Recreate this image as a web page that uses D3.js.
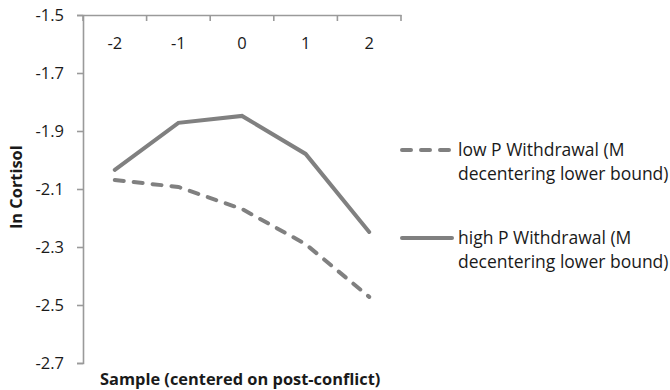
<!DOCTYPE html>
<html>
<head>
<meta charset="utf-8">
<script src="https://cdn.jsdelivr.net/npm/d3@7"></script>
<style>
  body { margin: 0; background: #fff; }
  text { font-family: "Open Sans", "Noto Sans", sans-serif; }
</style>
</head>
<body>
<svg id="chart" width="670" height="390"></svg>
<script>
// samples centered on post-conflict
var samples = [-2, -1, 0, 1, 2];

// ln cortisol values
var lowWithdrawal = [-2.069, -2.093, -2.169, -2.290, -2.472];
var highWithdrawal = [-2.034, -1.872, -1.848, -1.979, -2.248];

var yTicks = [-1.5, -1.7, -1.9, -2.1, -2.3, -2.5, -2.7];

var seriesNames = ["low P Withdrawal (M|decentering lower bound)",
                   "high P Withdrawal (M|decentering lower bound)"];

var svg = d3.select("#chart");
var lineColor = "#808080";
var axisColor = "#9a9a9a";
var textColor = "#1a1a1a";

// scales
var x = d3.scaleBand().domain(samples).range([83, 401]);
var y = d3.scaleLinear().domain([-1.5, -2.7]).range([15, 363]);

// y axis on the left, plain hyphen for the minus
var yAxis = d3.axisLeft(y).tickValues(yTicks).tickSize(6).tickPadding(13)
   .tickFormat(function(d) { return d.toFixed(1); });
var gy = svg.append("g").attr("transform", "translate(83,0)").call(yAxis);
gy.select(".domain").attr("stroke", axisColor).attr("stroke-width", 1.6);
gy.selectAll(".tick line").attr("stroke", axisColor).attr("stroke-width", 1.6);
gy.selectAll(".tick text").attr("font-size", 16.5).attr("fill", textColor)
   .style("font-family", "'Open Sans', sans-serif");

// x axis sits on top, labels under the line
var xAxis = d3.axisTop(x).tickSize(0).tickPadding(0)
   .tickFormat(function(d) { return String(d); });
var gx = svg.append("g").attr("transform", "translate(0,15)").call(xAxis);
gx.select(".domain").attr("stroke", axisColor).attr("stroke-width", 1.6);
gx.selectAll(".tick text").attr("font-size", 16.5).attr("fill", textColor)
   .attr("dy", 0).attr("y", 34)
   .style("font-family", "'Open Sans', sans-serif");

// tick marks on the band boundaries, pointing down
var bounds = samples.map(function(s) { return x(s); }).concat([x.range()[1]]);
svg.append("g").selectAll("line")
   .data(bounds)
   .enter()
   .append("line")
   .attr("x1", function(d) { return d; })
   .attr("x2", function(d) { return d; })
   .attr("y1", 15)
   .attr("y2", 21)
   .attr("stroke", axisColor)
   .attr("stroke-width", 1.6);

// lines
var line = d3.line()
   .x(function(d, i) { return x(samples[i]) + x.bandwidth() / 2; })
   .y(function(d) { return y(d); });

svg.append("path")
   .datum(lowWithdrawal)
   .attr("d", line)
   .attr("fill", "none")
   .attr("stroke", lineColor)
   .attr("stroke-width", 4)
   .attr("stroke-linecap", "round")
   .attr("stroke-dasharray", "9,10");

svg.append("path")
   .datum(highWithdrawal)
   .attr("d", line)
   .attr("fill", "none")
   .attr("stroke", lineColor)
   .attr("stroke-width", 4)
   .attr("stroke-linecap", "round");

// legend
var legendY = [150, 238];
seriesNames.forEach(function(name, i) {
   var g = svg.append("g").attr("transform", "translate(0," + legendY[i] + ")");
   g.append("line")
      .attr("x1", 402).attr("x2", 452)
      .attr("y1", 0).attr("y2", 0)
      .attr("stroke", lineColor)
      .attr("stroke-width", 4)
      .attr("stroke-linecap", "round")
      .attr("stroke-dasharray", i == 0 ? "9,10" : null);
   name.split("|").forEach(function(part, j) {
      g.append("text")
         .attr("x", 458)
         .attr("y", j * 24)
         .attr("dy", "0.35em")
         .attr("font-size", 17.5)
         .attr("fill", textColor)
         .text(part);
   });
});

// axis titles
svg.append("text")
   .attr("x", 100)
   .attr("y", 385)
   .attr("font-size", 16.4)
   .attr("font-weight", "bold")
   .attr("fill", textColor)
   .text("Sample (centered on post-conflict)");

svg.append("text")
   .attr("transform", "translate(16,187) rotate(-90)")
   .attr("text-anchor", "middle")
   .attr("dy", "0.35em")
   .attr("font-size", 16.4)
   .attr("font-weight", "bold")
   .attr("fill", textColor)
   .text("ln Cortisol");
</script>
</body>
</html>
